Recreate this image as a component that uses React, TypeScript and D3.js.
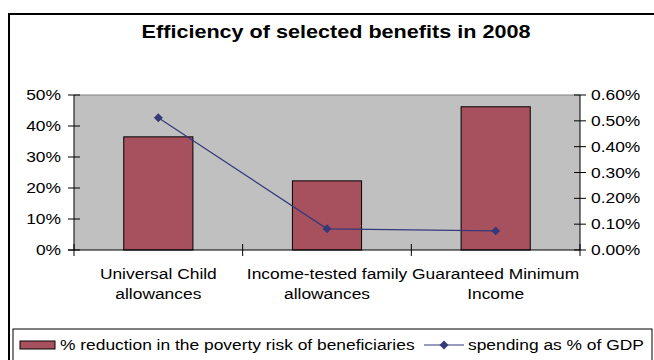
import React from "react";
import * as d3 from "d3";

const categories: string[][] = [
  ["Universal Child", "allowances"],
  ["Income-tested family", "allowances"],
  ["Guaranteed Minimum", "Income"],
];
const reductionValues = [0.365, 0.223, 0.462];
const spendingValues = [0.00512, 0.00082, 0.00074];
const leftTicks = [0, 0.1, 0.2, 0.3, 0.4, 0.5];
const rightTicks = [0, 0.001, 0.002, 0.003, 0.004, 0.005, 0.006];
const title = "Efficiency of selected benefits in 2008";
const legendBar = "% reduction in the poverty risk of beneficiaries";
const legendLine = "spending as % of GDP";

const W = 654;
const H = 360;
const plot = { left: 74, right: 580, top: 95, bottom: 250 };
const FONT = "'Liberation Sans', Arial, Helvetica, sans-serif";
const SX = 1.2;
const BAR_COLOR = "#A8515E";
const LINE_COLOR = "#35397A";

function T(props: {
  x: number;
  y: number;
  anchor?: "start" | "middle" | "end";
  size?: number;
  bold?: boolean;
  sx?: number;
  children: React.ReactNode;
}) {
  const { x, y, anchor = "start", size = 14.5, bold = false, sx = SX, children } = props;
  return (
    <text
      transform={`translate(${x},${y}) scale(${sx},1)`}
      textAnchor={anchor}
      fontFamily={FONT}
      fontSize={size}
      fontWeight={bold ? "bold" : "normal"}
      fill="#000"
    >
      {children}
    </text>
  );
}

export default function App() {
  const x = d3
    .scaleBand<number>()
    .domain(d3.range(categories.length))
    .range([plot.left, plot.right])
    .paddingInner(0)
    .paddingOuter(0);
  const bw = x.bandwidth();
  const barW = bw * 0.41;
  const yL = d3.scaleLinear().domain([0, 0.5]).range([plot.bottom, plot.top]);
  const yR = d3.scaleLinear().domain([0, 0.006]).range([plot.bottom, plot.top]);
  const fmtL = d3.format(".0%");
  const fmtR = d3.format(".2%");
  const cx = (i: number) => (x(i) as number) + bw / 2;
  const line = d3
    .line<number>()
    .x((_, i) => cx(i))
    .y((d) => yR(d));
  const diamond = d3.symbol().type(d3.symbolSquare).size(40)();

  return (
    <svg
      width={W}
      height={H}
      style={{ position: "absolute", left: 0, top: 0, background: "#fff" }}
    >
      <rect x={0} y={0} width={W} height={H} fill="#fff" />
      {/* outer chart frame (extends past the picture on right/bottom) */}
      <rect x={9} y={14} width={720} height={420} fill="none" stroke="#000" strokeWidth={2} />

      <T x={336} y={38} anchor="middle" size={18} bold sx={1.2}>
        {title}
      </T>

      {/* plot area */}
      <rect
        x={plot.left}
        y={plot.top}
        width={plot.right - plot.left}
        height={plot.bottom - plot.top}
        fill="#C0C0C0"
      />
      <line x1={plot.left} x2={plot.right} y1={plot.top} y2={plot.top} stroke="#808080" strokeWidth={1} />

      {/* bars */}
      {reductionValues.map((v, i) => (
        <rect
          key={i}
          x={cx(i) - barW / 2}
          y={yL(v)}
          width={barW}
          height={plot.bottom - yL(v)}
          fill={BAR_COLOR}
          stroke="#000"
          strokeWidth={1}
        />
      ))}

      {/* axes */}
      <line x1={plot.left} x2={plot.left} y1={plot.top} y2={plot.bottom} stroke="#000" strokeWidth={1} />
      <line x1={plot.right} x2={plot.right} y1={plot.top} y2={plot.bottom} stroke="#000" strokeWidth={1} />
      <line x1={plot.left - 6} x2={plot.right} y1={plot.bottom} y2={plot.bottom} stroke="#000" strokeWidth={1} />

      {leftTicks.map((t) => (
        <g key={"l" + t}>
          <line x1={plot.left - 6} x2={plot.left + 6} y1={yL(t)} y2={yL(t)} stroke="#000" />
          <T x={61} y={yL(t) + 5} anchor="end">
            {fmtL(t)}
          </T>
        </g>
      ))}
      {rightTicks.map((t) => (
        <g key={"r" + t}>
          <line x1={plot.right - 6} x2={plot.right + 6} y1={yR(t)} y2={yR(t)} stroke="#000" />
          <T x={591} y={yR(t) + 5} anchor="start">
            {fmtR(t)}
          </T>
        </g>
      ))}
      {d3.range(categories.length + 1).map((i) => {
        const xx = i < categories.length ? (x(i) as number) : plot.right;
        return <line key={"c" + i} x1={xx} x2={xx} y1={plot.bottom - 6} y2={plot.bottom + 6} stroke="#000" />;
      })}

      {/* line series */}
      <path d={line(spendingValues) || ""} fill="none" stroke={LINE_COLOR} strokeWidth={1.2} />
      {spendingValues.map((v, i) => (
        <path
          key={"m" + i}
          d={diamond || ""}
          transform={`translate(${cx(i)},${yR(v)}) rotate(45)`}
          fill={LINE_COLOR}
        />
      ))}

      {/* category labels */}
      {categories.map((lines, i) => (
        <g key={"cat" + i}>
          {lines.map((s, j) => (
            <T key={j} x={cx(i)} y={279 + j * 20} anchor="middle">
              {s}
            </T>
          ))}
        </g>
      ))}

      {/* legend */}
      <rect x={13} y={329} width={639} height={50} fill="#fff" stroke="#000" strokeWidth={1} />
      <rect x={20} y={341} width={35} height={8} fill={BAR_COLOR} stroke="#000" strokeWidth={1} />
      <T x={60} y={350}>{legendBar}</T>
      <line x1={424} x2={464} y1={345} y2={345} stroke={LINE_COLOR} strokeWidth={1.2} />
      <path d={diamond || ""} transform="translate(444,345) rotate(45)" fill={LINE_COLOR} />
      <T x={468} y={350}>{legendLine}</T>
    </svg>
  );
}
